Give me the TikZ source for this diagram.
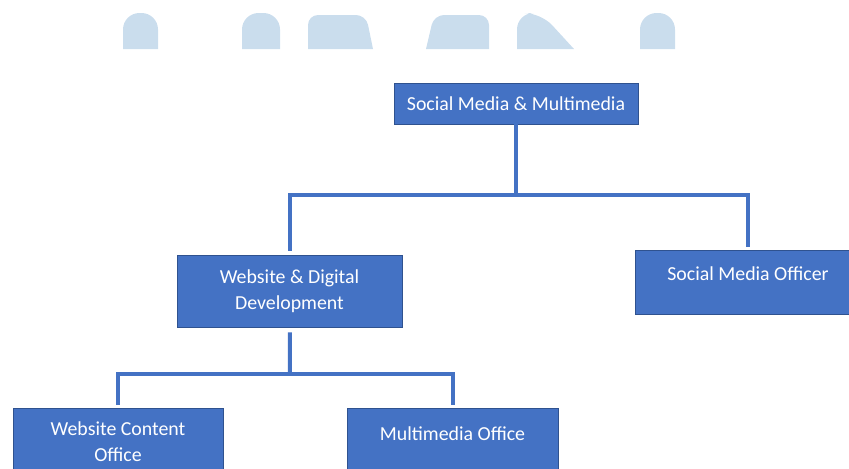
\documentclass[tikz,border=0pt]{standalone}
\usepackage{fontspec}
\setmainfont{Carlito}
\definecolor{boxblue}{HTML}{4472C4}
\definecolor{boxedge}{HTML}{2F528F}
\definecolor{wmblue}{HTML}{CADDED}
\begin{document}
\begin{tikzpicture}[x=0.02cm,y=-0.02cm,
	unit/.style={draw=boxedge,line width=0.5pt,fill=boxblue,text=white,font=\fontsize{11.3}{15}\selectfont,align=center,inner sep=0pt},
	oneline/.style={text depth=9pt},
	link/.style={draw=boxblue,line width=0.08cm},
	wm/.style={fill=wmblue,rounded corners=0.33cm}]
		\useasboundingbox (0,0) rectangle (849,468);
		\fill[wm] (123,49) -- (123,13) -- (158,13) -- (158,49);
		\fill[wm] (242,49) -- (242,13) -- (280,13) -- (280,49);
		\fill[wm,rounded corners=0.2cm] (308,49) -- (308,15) -- (366,15) -- (373,49);
		\fill[wm,rounded corners=0.2cm] (426,49) -- (434,15) -- (489,15) -- (489,49);
		\fill[wm] (517,49) -- (517,13) -- (541,13) -- (574,49);
		\fill[wm] (640,49) -- (640,13) -- (675,13) -- (675,49);
		\node[unit,minimum width=4.88cm,minimum height=0.82cm] (smm) at (516,103.5) {Social Media \& Multimedia};
		\node[unit,minimum width=4.5cm,minimum height=1.44cm] (wdd) at (289.5,291) {Website \& Digital\\Development};
		\node[unit,oneline,minimum width=4.52cm,minimum height=1.28cm] (smo) at (748,282) {Social Media Officer};
		\node[unit,minimum width=4.2cm,minimum height=1.34cm] (wco) at (118,441.5) {Website Content\\Office};
		\node[unit,oneline,minimum width=4.22cm,minimum height=1.34cm] (mo) at (452.5,441.5) {Multimedia Office};
		\coordinate (j1) at (516,195);
		\coordinate (j2) at (290,374);
		\draw[link] (smm.south) -- (j1);
		\draw[link,shorten >=0.08cm] (j1) -| (wdd);
		\draw[link,shorten >=0.06cm] (j1) -| (smo);
		\draw[link,shorten <=0.1cm] (wdd) -- (j2);
		\draw[link,shorten >=0.06cm] (j2) -| (wco);
		\draw[link,shorten >=0.06cm] (j2) -| (mo);
	\end{tikzpicture}
\end{document}
